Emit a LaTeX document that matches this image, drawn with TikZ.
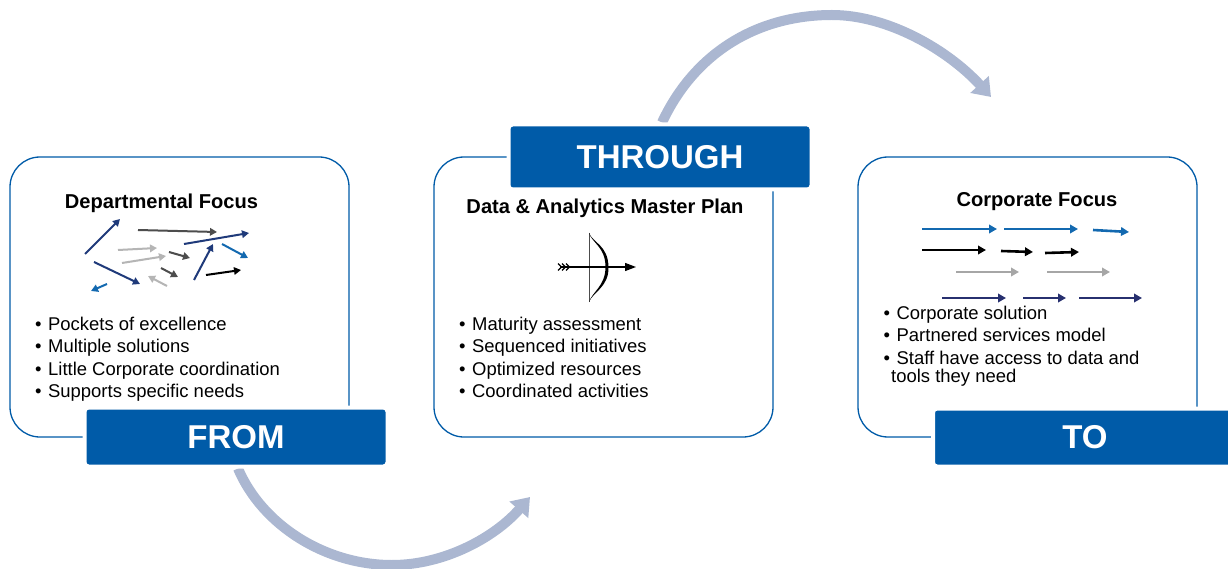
\documentclass[tikz,border=0pt]{standalone}
\usepackage{fontspec}
\setmainfont{Liberation Sans}
\usetikzlibrary{arrows.meta,backgrounds}
\definecolor{bannerblue}{HTML}{005BA8}
\definecolor{arcblue}{HTML}{ABB7D1}
\definecolor{navyarrow}{HTML}{1F3A7A}
\definecolor{midblue}{HTML}{1369B0}
\definecolor{darkgrey}{HTML}{4D4D4D}
\definecolor{lightgrey}{HTML}{B5B5B5}
\definecolor{midgrey}{HTML}{A6A6A6}
\definecolor{deepnavy}{HTML}{27306F}
\tikzset{
  x=1pt,y=-1pt,
  panel/.style={draw=bannerblue,line width=1.3pt,fill=white,rounded corners=30pt,inner sep=0pt,minimum width=339pt,minimum height=280pt},
  banner/.style={draw=white,line width=4pt,fill=bannerblue,rounded corners=4pt,text=white,font=\fontsize{33}{33}\selectfont\bfseries,inner sep=0pt},
  paneltitle/.style={anchor=base,font=\fontsize{20.1}{21}\selectfont\bfseries,inner sep=0pt},
  bullettext/.style={anchor=base west,font=\fontsize{18.45}{20}\selectfont,inner sep=0pt},
  bigarc/.style={draw=arcblue,line width=10pt,-{Triangle[length=17pt,width=24pt]}},
  tiny/.style={line width=2pt,-{Triangle[length=7pt,width=7.5pt]}},
  flow/.style={line width=2.6pt,-{Triangle[length=8pt,width=8.5pt]}}
}
\newcommand{\bl}{•\hspace{6.5pt}}
\begin{document}
\begin{tikzpicture}
\useasboundingbox (0,0) rectangle (1228,569);
% panels
\node[panel] (leftp) at (179.5,297) {};
\node[panel] (midp) at (603.5,297) {};
\node[panel] (rightp) at (1027.5,297) {};
% banners
\node[banner,minimum width=303pt,minimum height=59pt] (from) at (236,437) {FROM};
\node[banner,minimum width=303pt,minimum height=65pt] (through) at (660,157) {THROUGH};
\begin{scope}
\clip (0,0) rectangle (1228,569);
\node[banner,minimum width=304pt,minimum height=58pt] (to) at (1085,437.5) {};
\end{scope}
\node[text=white,font=\fontsize{33}{33}\selectfont\bfseries,inner sep=0pt] (tolabel) at (1085,437) {TO};
% big arcs
\coordinate (arcA) at (991,97);
\coordinate (arcB) at (530,497);
\begin{scope}[on background layer]
\draw[bigarc] ([xshift=2pt]through.north) .. controls (695,52) and (758,15) .. (832,15) .. controls (888,15) and (948,50) .. (arcA);
\draw[bigarc] ([xshift=2pt]from.south) .. controls (262,525) and (325,565) .. (392,565) .. controls (445,565) and (495,537) .. (arcB);
\end{scope}
% titles
\node[paneltitle] (t1) at (161.5,209) {Departmental Focus};
\node[paneltitle] (t2) at (605,214) {Data \& Analytics Master Plan};
\node[paneltitle] (t3) at (1037,207) {Corporate Focus};
% left bullets
\node[bullettext] (l1) at (35,330) {\bl Pockets of excellence};
\node[bullettext] (l2) at (35,352) {\bl Multiple solutions};
\node[bullettext] (l3) at (35,375) {\bl Little Corporate coordination};
\node[bullettext] (l4) at (35,397) {\bl Supports specific needs};
% centre bullets
\node[bullettext] (m1) at (459,330) {\bl Maturity assessment};
\node[bullettext] (m2) at (459,352) {\bl Sequenced initiatives};
\node[bullettext] (m3) at (459,375) {\bl Optimized resources};
\node[bullettext] (m4) at (459,397) {\bl Coordinated activities};
% right bullets
\node[bullettext] (r1) at (883.5,319) {\bl Corporate solution};
\node[bullettext] (r2) at (883.5,341) {\bl Partnered services model};
\node[bullettext] (r3) at (883.5,364) {\bl Staff have access to data and};
\node[bullettext] (r4) at (891,382) {tools they need};
% scattered arrows
\foreach \c/\a/\b/\p/\q in {
 navyarrow/85/254/120/219, darkgrey/138/230/217/232, navyarrow/184/244/249/233,
 lightgrey/118/250/157/248, lightgrey/122/263/166/256, darkgrey/169/252/190/258,
 midblue/222/244/248/258, navyarrow/194/280/213/244, navyarrow/94/262/140/284,
 darkgrey/161/268/178/277, lightgrey/167/286/148/276, black/206/275/241/270,
 midblue/107/284/91/291}
  \draw[tiny,\c] (\a,\b) -- (\p,\q);
% aligned arrows
\foreach \c/\a/\b/\p/\q in {
 midblue/922/229/997/229, midblue/1004/229/1078/229, midblue/1093/230/1129/232,
 black/922/250/986/250, black/1001/251/1033/252, black/1045/253/1079/252,
 midgrey/956/272/1019/272, midgrey/1047/272/1110/272,
 deepnavy/942/298/1006/298, deepnavy/1023/298/1066/298, deepnavy/1079/298/1142/298}
  \draw[flow,\c] (\a,\b) -- (\p,\q);
% bow
\draw[line width=1pt,black!70] (589,233) -- (589,302);
\fill[black] (589,233) .. controls (593,243) and (608,245) .. (608.5,267) .. controls (609,287) and (593,292) .. (589,302) .. controls (592,292) and (605.5,286) .. (605.5,267) .. controls (605.5,247) and (592,243) .. (589,233) -- cycle;
\draw[line width=1.3pt,-{Triangle[length=11pt,width=8pt]}] (560,267) -- (636,267);
\foreach \d in {0,4,8}
  \draw[line width=1.4pt] (558+\d,263.5) -- (561.5+\d,267) -- (558+\d,270.5);
\end{tikzpicture}
\end{document}
